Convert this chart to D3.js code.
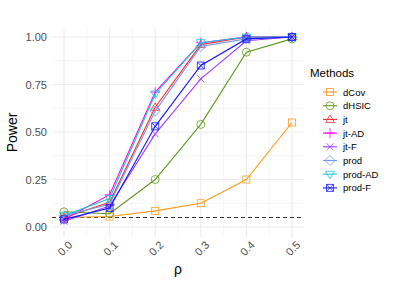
<!DOCTYPE html>
<html><head><meta charset="utf-8">
<script src="https://cdn.jsdelivr.net/npm/d3@7"></script>
<style>body{margin:0;background:#fff}svg{display:block;font-family:"Liberation Sans",Arial,sans-serif}</style>
</head><body><svg id="c" width="397" height="283"></svg>
<script>
const rho = [0.0, 0.1, 0.2, 0.3, 0.4, 0.5];
const methods = ["dCov","dHSIC","jt","jt-AD","jt-F","prod","prod-AD","prod-F"];
const dCov   = [0.05, 0.055, 0.085, 0.125, 0.25, 0.55];
const dHSIC  = [0.08, 0.07, 0.25, 0.54, 0.92, 0.99];
const jt     = [0.05, 0.13, 0.63, 0.96, 1.00, 1.00];
const jtAD   = [0.04, 0.17, 0.71, 0.97, 1.00, 1.00];
const jtF    = [0.03, 0.11, 0.49, 0.78, 0.98, 1.00];
const prod   = [0.06, 0.12, 0.61, 0.95, 0.99, 1.00];
const prodAD = [0.06, 0.15, 0.70, 0.97, 1.00, 1.00];
const prodF  = [0.04, 0.10, 0.53, 0.85, 0.99, 1.00];
const yTicks = [0, 0.25, 0.5, 0.75, 1.0];
const xTicks = [0.0, 0.1, 0.2, 0.3, 0.4, 0.5];
const alpha = 0.05;

const series = [dCov,dHSIC,jt,jtAD,jtF,prod,prodAD,prodF];
const colors = ["#FF9A1A","#5E9A1C","#FF2A2A","#FF00FF","#A43BFF","#6C9CF0","#14C8D4","#1515FF"];
const shapes = ["square","circle","triangle","plus","cross","diamond","tridown","sqcross"];

const svg = d3.select("#c");
const x = d3.scaleLinear().domain([0,0.5]).range([64,292]);
const y = d3.scaleLinear().domain([0,1]).range([227,37]);
const px0=52, px1=304, py0=28, py1=237;
const g = svg.append("g");
const grid = g.append("g");
const xMinor = [0.05,0.15,0.25,0.35,0.45];
const yMinor = [0.125,0.375,0.625,0.875];
xMinor.forEach(v=>grid.append("line").attr("x1",x(v)).attr("x2",x(v)).attr("y1",py0).attr("y2",py1).attr("stroke","#ebebeb").attr("stroke-width",0.5));
yMinor.forEach(v=>grid.append("line").attr("y1",y(v)).attr("y2",y(v)).attr("x1",px0).attr("x2",px1).attr("stroke","#ebebeb").attr("stroke-width",0.5));
xTicks.forEach(v=>grid.append("line").attr("x1",x(v)).attr("x2",x(v)).attr("y1",py0).attr("y2",py1).attr("stroke","#ebebeb").attr("stroke-width",1.1));
yTicks.forEach(v=>grid.append("line").attr("y1",y(v)).attr("y2",y(v)).attr("x1",px0).attr("x2",px1).attr("stroke","#ebebeb").attr("stroke-width",1.1));

const ya = svg.append("g").attr("transform",`translate(${px0},0)`)
  .call(d3.axisLeft(y).tickValues(yTicks).tickFormat(d3.format(".2f")).tickSize(0).tickPadding(5));
ya.select(".domain").remove();
ya.selectAll("text").attr("fill","#4d4d4d").style("font-size","11px").style("font-family","Liberation Sans, Arial, sans-serif");
const xa = svg.append("g").attr("transform",`translate(0,${py1})`)
  .call(d3.axisBottom(x).tickValues(xTicks).tickFormat(d3.format(".1f")).tickSize(0).tickPadding(0));
xa.select(".domain").remove();
xa.selectAll("text").attr("fill","#4d4d4d").style("font-size","11px").style("font-family","Liberation Sans, Arial, sans-serif")
  .attr("text-anchor","end").attr("dy",null).attr("y",0)
  .attr("transform","translate(3,3) rotate(-45)").attr("dominant-baseline","hanging");

svg.append("line").attr("x1",px0).attr("x2",px1).attr("y1",y(alpha)).attr("y2",y(alpha))
  .attr("stroke","#333").attr("stroke-width",1).attr("stroke-dasharray","4,3");

function sym(sel, shape, color, cx, cy){
  const s=4;
  const a = {fill:"none",stroke:color,"stroke-width":0.8};
  let el;
  if(shape==="square") el=sel.append("rect").attr("x",cx-s+0.5).attr("y",cy-s+0.5).attr("width",2*s-1).attr("height",2*s-1);
  else if(shape==="circle") el=sel.append("circle").attr("cx",cx).attr("cy",cy).attr("r",s);
  else if(shape==="triangle") el=sel.append("path").attr("d",`M${cx},${cy-s-0.5}L${cx+s+0.5},${cy+s-1}L${cx-s-0.5},${cy+s-1}Z`);
  else if(shape==="tridown") el=sel.append("path").attr("d",`M${cx},${cy+s+0.5}L${cx+s+0.5},${cy-s+1}L${cx-s-0.5},${cy-s+1}Z`);
  else if(shape==="plus") el=sel.append("path").attr("d",`M${cx-s-1},${cy}H${cx+s+1}M${cx},${cy-s-1}V${cy+s+1}`);
  else if(shape==="cross") el=sel.append("path").attr("d",`M${cx-s+0.5},${cy-s+0.5}L${cx+s-0.5},${cy+s-0.5}M${cx-s+0.5},${cy+s-0.5}L${cx+s-0.5},${cy-s+0.5}`);
  else if(shape==="diamond") el=sel.append("path").attr("d",`M${cx},${cy-s-1}L${cx+s+1},${cy}L${cx},${cy+s+1}L${cx-s-1},${cy}Z`);
  else if(shape==="sqcross") el=sel.append("path").attr("d",`M${cx-s+0.5},${cy-s+0.5}h${2*s-1}v${2*s-1}h${-(2*s-1)}Z M${cx-s+0.5},${cy-s+0.5}L${cx+s-0.5},${cy+s-0.5}M${cx-s+0.5},${cy+s-0.5}L${cx+s-0.5},${cy-s+0.5}`);
  Object.entries(a).forEach(([k,v])=>el.attr(k,v));
  return el;
}

const line = d3.line().x((d,i)=>x(rho[i])).y(d=>y(d));
series.forEach((vals,k)=>{
  const gg = svg.append("g");
  gg.append("path").attr("d",line(vals)).attr("fill","none").attr("stroke",colors[k]).attr("stroke-width",1.1);
  vals.forEach((v,i)=>sym(gg,shapes[k],colors[k],x(rho[i]),y(v)));
});

svg.append("text").attr("x",x(0.25)).attr("y",274).attr("text-anchor","middle").style("font-size","14px").attr("fill","#000").text("ρ");
svg.append("text").attr("transform",`translate(17,${(py0+py1)/2}) rotate(-90)`).attr("text-anchor","middle").style("font-size","14px").attr("fill","#000").text("Power");

const lg = svg.append("g");
lg.append("text").attr("x",310).attr("y",77).style("font-size","11.5px").attr("fill","#000").text("Methods");
methods.forEach((m,k)=>{
  const cy = 92 + k*13.7;
  lg.append("line").attr("x1",323).attr("x2",337).attr("y1",cy).attr("y2",cy).attr("stroke",colors[k]).attr("stroke-width",1.1);
  sym(lg,shapes[k],colors[k],330,cy);
  lg.append("text").attr("x",343).attr("y",cy+3.5).style("font-size",".6em").style("font-size","9.5px").attr("fill","#000").text(m);
});
</script></body></html>
